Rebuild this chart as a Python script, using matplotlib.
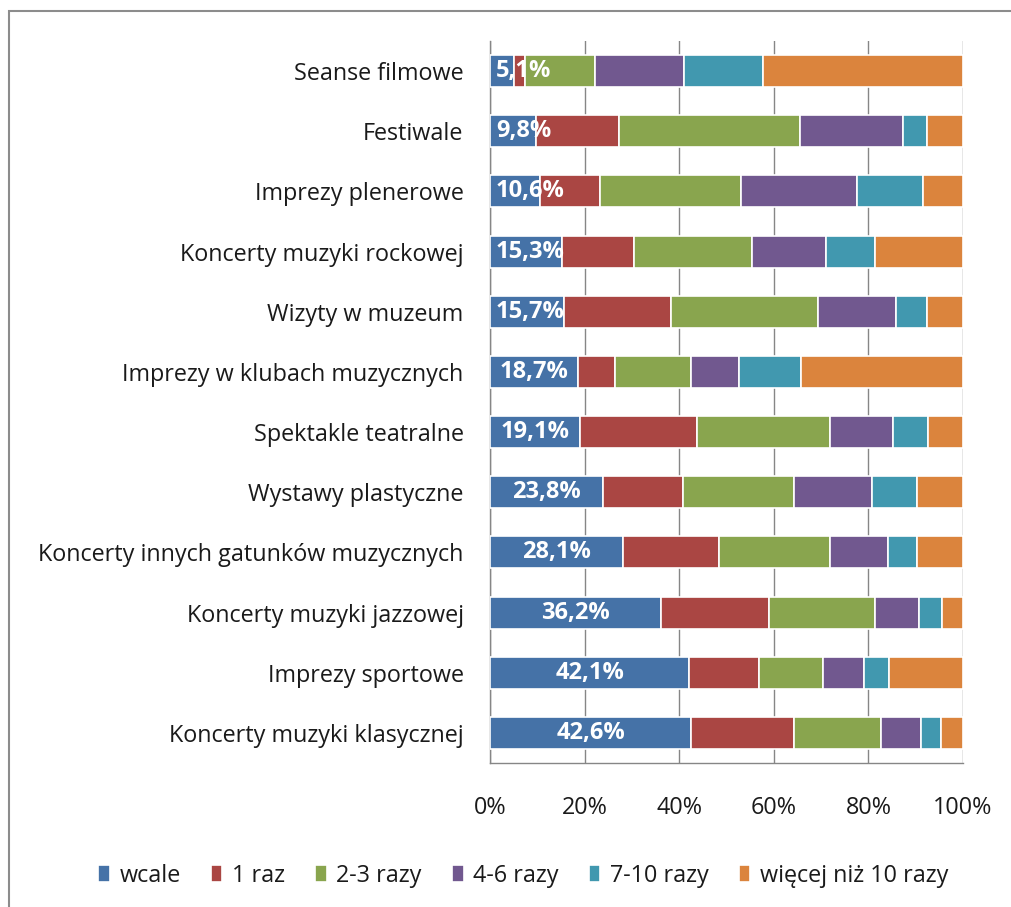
import matplotlib
matplotlib.use("Agg")
import matplotlib.pyplot as plt
from matplotlib.patches import Rectangle
import numpy as np

categories = [
    "Seanse filmowe",
    "Festiwale",
    "Imprezy plenerowe",
    "Koncerty muzyki rockowej",
    "Wizyty w muzeum",
    "Imprezy w klubach muzycznych",
    "Spektakle teatralne",
    "Wystawy plastyczne",
    "Koncerty innych gatunków muzycznych",
    "Koncerty muzyki jazzowej",
    "Imprezy sportowe",
    "Koncerty muzyki klasycznej",
]
series_names = ["wcale", "1 raz", "2-3 razy", "4-6 razy", "7-10 razy", "więcej niż 10 razy"]

wcale   = [5.1, 9.8, 10.6, 15.3, 15.7, 18.7, 19.1, 23.8, 28.1, 36.2, 42.1, 42.6]
raz1    = [2.2, 17.5, 12.6, 15.1, 22.5, 7.8, 24.6, 16.9, 20.4, 22.8, 14.8, 21.6]
razy23  = [14.9, 38.3, 29.9, 24.9, 31.2, 16.0, 28.1, 23.6, 23.3, 22.3, 13.5, 18.4]
razy46  = [18.9, 21.7, 24.4, 15.7, 16.5, 10.1, 13.3, 16.5, 12.4, 9.3, 8.7, 8.5]
razy710 = [16.6, 5.1, 14.0, 10.3, 6.5, 13.1, 7.6, 9.5, 6.1, 5.0, 5.2, 4.3]
wiecej  = [42.3, 7.6, 8.5, 18.7, 7.6, 34.3, 7.3, 9.7, 9.7, 4.4, 15.7, 4.6]

x_ticks = [0, 20, 40, 60, 80, 100]
x_tick_labels = ["0%", "20%", "40%", "60%", "80%", "100%"]

colors = ["#4572A7", "#AA4643", "#89A54E", "#71588F", "#4198AF", "#DB843D"]

FONT = "Open Sans"
plt.rcParams["font.family"] = [FONT, "DejaVu Sans"]
FS = 16.8

W, H = 1012, 907
fig = plt.figure(figsize=(W / 100, H / 100), dpi=100)
fig.patch.set_facecolor("white")

# outer frame
fig.patches.append(Rectangle((9 / W, -0.1), 1.2, (H - 11) / H + 0.1, transform=fig.transFigure,
                             fill=False, edgecolor="#8c8c8c", linewidth=1.5))

ax = fig.add_axes([490 / W, (H - 763) / H, (963 - 490) / W, (763 - 41) / H])

data = [wcale, raz1, razy23, razy46, razy710, wiecej]
n = len(categories)
y = np.arange(n)
left = np.zeros(n)
for vals, c, name in zip(data, colors, series_names):
    vals = np.array(vals)
    ax.barh(y, vals, left=left, height=0.53, color=c, edgecolor="white", linewidth=1.2,
            label=name, zorder=3)
    left += vals

ax.set_ylim(n - 0.5, -0.5)
ax.set_xlim(0, 100)

texts = []
for yi, v in zip(y, wcale):
    t = ax.text(v / 2, yi, f"{v:.1f}%".replace(".", ","), ha="center", va="center",
                color="white", fontsize=17, fontweight="bold", zorder=5)
    texts.append(t)

ax.set_yticks(y)
ax.set_yticklabels(categories, fontsize=FS, color="#1a1a1a")
ax.set_xticks(x_ticks)
ax.set_xticklabels(x_tick_labels, fontsize=FS, color="#1a1a1a")
ax.tick_params(axis="y", length=0, pad=19)
ax.tick_params(axis="x", length=0, pad=24)
ax.grid(axis="x", color="#868686", linewidth=1.0, zorder=0)
for s in ["top", "right"]:
    ax.spines[s].set_visible(False)
for s in ["left", "bottom"]:
    ax.spines[s].set_color("#868686")
    ax.spines[s].set_linewidth(1.0)

# keep data labels inside the plot area (as Excel does)
fig.canvas.draw()
renderer = fig.canvas.get_renderer()
ax_left_px = ax.get_window_extent(renderer).x0
for t in texts:
    bb = t.get_window_extent(renderer)
    min_left = ax_left_px + 6
    if bb.x0 < min_left:
        shift = min_left - bb.x0
        cx_px = ax.transData.transform((t.get_position()[0], 0))[0] + shift
        new_x = ax.transData.inverted().transform((cx_px, 0))[0]
        t.set_x(new_x)

handles, labels = ax.get_legend_handles_labels()
leg = fig.legend(handles, labels, loc="center", bbox_to_anchor=(0.517, 1 - 876 / H), ncol=6,
                 frameon=False, fontsize=FS, handlelength=0.5, handleheight=0.75,
                 handletextpad=0.4, columnspacing=1.3)
for t in leg.get_texts():
    t.set_color("#1a1a1a")

fig.savefig("out.png", dpi=100, facecolor="white")
